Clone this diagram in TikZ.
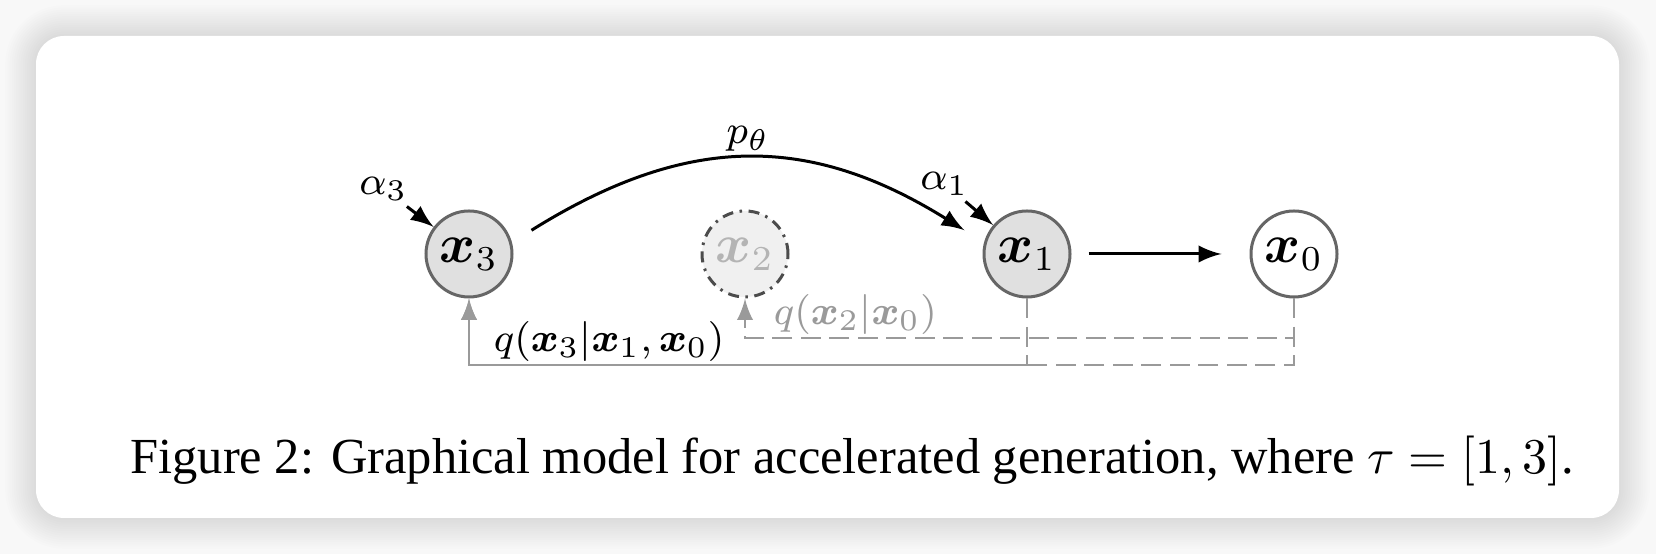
\documentclass[tikz,border=0pt]{standalone}
\usepackage{amssymb, amstext, amsmath}
\usepackage[no-math]{fontspec}
\newfontfamily\capfont{Liberation Serif}
\usetikzlibrary{arrows,positioning}

\definecolor{nodegray}{HTML}{E0E0E0}
\definecolor{ghostgray}{HTML}{F0F0F0}
\definecolor{rimgray}{HTML}{666666}
\definecolor{linegray}{HTML}{9A9A9A}
\definecolor{textgray}{HTML}{B4B4B4}
\definecolor{pagegray}{HTML}{F8F8F8}

\begin{document}
\begin{tikzpicture}[x=0.2pt,y=0.2pt,>=latex,semithick,
  var/.style={circle,draw=rimgray,minimum size=17.2pt,inner sep=0pt,font=\fontsize{10.5}{12}\selectfont},
  obs/.style={var,fill=nodegray},
  skipped/.style={var,fill=ghostgray,draw=black!70,dash pattern=on 2.2pt off 1.3pt on 0.5pt off 1.3pt,text=textgray},
  lbl/.style={inner sep=1pt,font=\fontsize{8.3}{10}\selectfont},
  cond/.style={->,linegray,line width=0.5pt,dash pattern=on 4pt off 1.7pt}]
% card and shadow
\fill[pagegray] (0,0) rectangle (1656,-554);
\foreach \i in {1,...,14} {
  \pgfmathsetmacro\rr{5.6+\i*0.44}
  \fill[black,opacity=0.008,rounded corners=\rr pt] (36-\i*2.2,-36+\i*2.2) rectangle (1619+\i*2.2,-518-\i*2.2);
}
\fill[white,rounded corners=5.6pt] (36,-36) rectangle (1619,-518);

\node[obs] (x3) at (469,-254) {$\boldsymbol{x}_3$};
\node[skipped] (x2) [right of=x3,node distance=55.2pt] {$\boldsymbol{x}_2$};
\node[obs] (x1) [right of=x2,node distance=56.4pt] {$\boldsymbol{x}_1$};
\node[var] (x0) [right of=x1,node distance=53.4pt] {$\boldsymbol{x}_0$};

\node[lbl] (a3) [above left=3.2pt and 4.7pt of x3] {$\alpha_3$};
\node[lbl] (a1) [above left=4.2pt and 4.1pt of x1] {$\alpha_1$};
\node[lbl] (q3) [below right=5.9pt and -2.6pt of x3] {$q(\boldsymbol{x}_3|\boldsymbol{x}_1,\boldsymbol{x}_0)$};
\node[lbl,text=linegray] (q2) [below right=0.5pt and -1.8pt of x2] {$q(\boldsymbol{x}_2|\boldsymbol{x}_0)$};

\draw[->] (a3) -- (x3);
\draw[->] (a1) -- (x1);
\draw[->,shorten <=4.6pt,shorten >=4.6pt] (x3.15) to[out=32,in=148,looseness=1.12] node[lbl,above=0.6pt] (pt) {$p_\theta$} (x1.165);
\draw[->,shorten <=3.4pt,shorten >=5.6pt] (x1) -- (x0);

\draw[cond] (x0) -- ++(0,-84) -| (x2);
\draw[cond] (x1) -- ++(0,-111) -| (x3);
\draw[cond,dash phase=0pt] (x0) -- ++(0,-111) -| (x3);

\node[anchor=base west,inner sep=0pt,font=\capfont\fontsize{10.1}{12}\selectfont] (cap) at (129,-474)
  {Figure 2: Graphical model for accelerated generation, where $\tau=[1,3]$.};
\end{tikzpicture}
\end{document}
